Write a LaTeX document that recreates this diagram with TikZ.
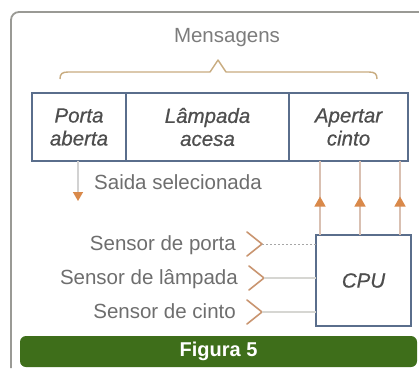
\documentclass[tikz,border=0pt]{standalone}
\usepackage{fontspec}
\setmainfont{Liberation Sans}
\newfontfamily\cellfont{Liberation Sans}[FakeBold=0.6]
\usepackage{tikz}
\usetikzlibrary{positioning, arrows.meta, decorations.markings, calc}

\definecolor{boxblue}{HTML}{5A6E8C}
\definecolor{tiporange}{HTML}{D9894A}
\definecolor{chevcol}{HTML}{C99570}
\definecolor{bracecol}{HTML}{C8AC80}
\definecolor{figgreen}{HTML}{3E6E1A}
\definecolor{txtgray}{HTML}{6E6E6E}
\definecolor{txtdark}{HTML}{4E4E4E}
\definecolor{wirecol}{HTML}{D6D6D2}
\definecolor{upcol}{HTML}{D9C0B2}
\definecolor{framecol}{HTML}{9A9A95}

\begin{document}
\begin{tikzpicture}[
    x=1pt, y=-1pt,
    lbl/.style={font=\fontsize{20.5}{23}\selectfont, text=txtgray, inner sep=0pt,
                text height=15pt, text depth=4pt},
    cell/.style={draw=boxblue, line width=1.6pt, fill=white, outer sep=0pt,
                 minimum height=68pt, align=center, inner sep=0pt,
                 font=\cellfont\fontsize{20.5}{23}\selectfont\itshape, text=txtdark},
    cpubox/.style={cell, minimum width=95pt, minimum height=91pt},
    figbar/.style={fill=figgreen, rounded corners=6pt, minimum width=397pt,
                   minimum height=31pt, text=white, font=\fontsize{20}{22}\selectfont\bfseries},
    wire/.style={wirecol, line width=2pt},
    dotwire/.style={gray!70, line width=0.8pt, dash pattern=on 2pt off 2pt},
    chev/.style={chevcol, line width=1.6pt, line cap=round, line join=round},
    uparr/.style={draw=upcol, line width=1.4pt,
                  decoration={markings, mark=at position 0.52 with
                  {\arrow{Triangle[length=10pt, width=11pt, color=tiporange]}}},
                  postaction=decorate},
    downarr/.style={gray!35, line width=1.4pt,
                    -{Triangle[length=9pt, width=10pt, color=tiporange]}},
]

\useasboundingbox (0,0) rectangle (419,368);
\fill[white] (0,0) rectangle (419,368);

% Frame
\draw[framecol, line width=1.8pt, rounded corners=8pt]
    (11,368) -- (11,12) -- (419,12);

% Messages
\node[lbl, text=txtgray!90] (mens) at (227,37) {Mensagens};
\draw[bracecol, line width=1.4pt, line join=round]
    (60,79) .. controls (60,74) and (62,72) .. (68,72) -- (210,72) -- (218,60)
    -- (226,72) -- (369,72) .. controls (375,72) and (377,74) .. (377,79);

\node[cell, minimum width=94pt, anchor=north west] (porta) at (32,93) {Porta\\aberta};
\node[cell, minimum width=163pt, right=0pt of porta] (lamp) {Lâmpada\\acesa};
\node[cell, minimum width=119pt, right=0pt of lamp] (cinto) {Apertar\\cinto};

% Selected output
\coordinate (saida) at (78,201);
\draw[downarr] (porta.south -| saida) -- (saida);
\node[lbl, anchor=west] (saidatxt) at (94,184) {Saida selecionada};

% CPU
\node[cpubox] (cpu) at (363.5,280.5) {CPU};
\foreach \dx in {-43.5,-3.5,36.5}
    \draw[uparr] ([xshift=\dx pt]cpu.north) -- ([xshift=\dx pt]cpu.north |- cinto.south);

% Sensors
\node[lbl, anchor=east] (sporta) at (236,245) {Sensor de porta};
\node[lbl, anchor=east] (slamp) at (238,279) {Sensor de lâmpada};
\node[lbl, anchor=east] (scinto) at (236,313) {Sensor de cinto};
\foreach \s in {sporta, slamp, scinto}{
    \coordinate (\s v) at ($(\s.east |- \s.center)+(26,-1)$);
    \draw[chev] ($(\s v)+(-15,-12)$) -- (\s v) -- ($(\s v)+(-15,12)$);
}
\draw[dotwire] (sportav) -- (sportav -| cpu.west);
\draw[wire] (slampv) -- (slampv -| cpu.west);
\draw[wire] (scintov) -- (scintov -| cpu.west);

% Caption bar
\node[figbar] (fig) at (218.5,351.5) {Figura 5};

\end{tikzpicture}
\end{document}
